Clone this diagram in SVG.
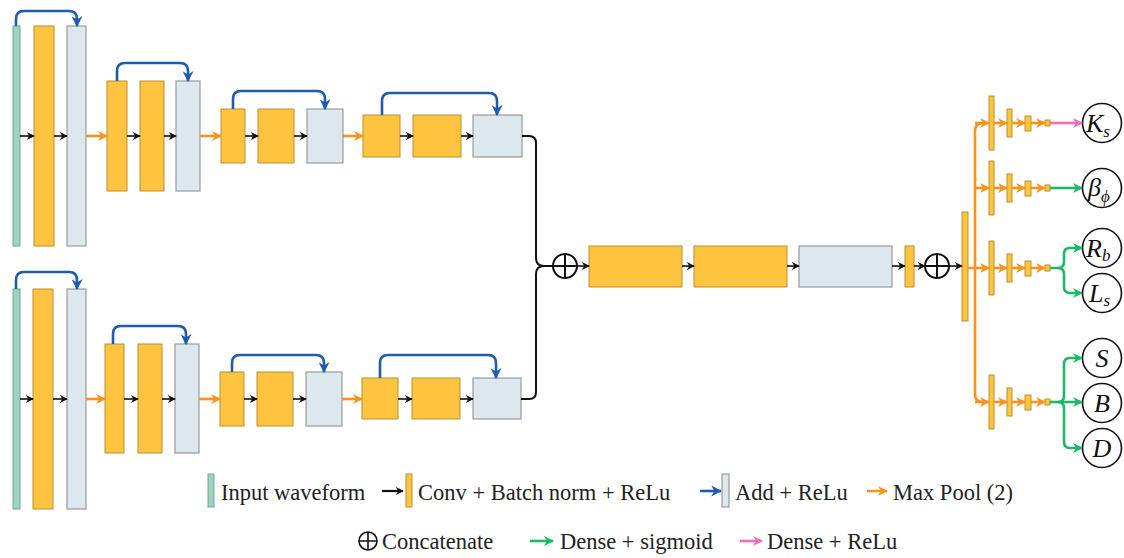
<svg xmlns="http://www.w3.org/2000/svg" width="1124" height="558" viewBox="0 0 1124 558">
<defs>
<marker id="mk" viewBox="0 0 10 10" refX="9" refY="5" markerWidth="8" markerHeight="8" markerUnits="userSpaceOnUse" orient="auto"><path d="M0,0 L10,5 L0,10 L3,5 z" fill="#111"/></marker>
<marker id="mo" viewBox="0 0 10 10" refX="9" refY="5" markerWidth="10" markerHeight="10" markerUnits="userSpaceOnUse" orient="auto"><path d="M0,0 L10,5 L0,10 L3,5 z" fill="#F7931E"/></marker>
<marker id="mb" viewBox="0 0 10 10" refX="9" refY="5" markerWidth="11" markerHeight="11" markerUnits="userSpaceOnUse" orient="auto"><path d="M0,0 L10,5 L0,10 L3,5 z" fill="#1F5CB0"/></marker>
<marker id="mg" viewBox="0 0 10 10" refX="9" refY="5" markerWidth="10" markerHeight="10" markerUnits="userSpaceOnUse" orient="auto"><path d="M0,0 L10,5 L0,10 L3,5 z" fill="#1DB865"/></marker>
<marker id="mp" viewBox="0 0 10 10" refX="9" refY="5" markerWidth="10" markerHeight="10" markerUnits="userSpaceOnUse" orient="auto"><path d="M0,0 L10,5 L0,10 L3,5 z" fill="#F06EB8"/></marker>
</defs>
<style>
.cv{fill:#FFC43F;stroke:#B8922F;stroke-width:1}
.ad{fill:#DDE8EE;stroke:#9A9A9A;stroke-width:1.2}
.in{fill:#9ED4BE;stroke:#6FA895;stroke-width:1}
.k{stroke:#111;stroke-width:1.6;fill:none;marker-end:url(#mk)}
.o{stroke:#F7931E;stroke-width:2.6;fill:none;marker-end:url(#mo)}
.on{stroke:#F7931E;stroke-width:2.6;fill:none}
.b{stroke:#1F5CB0;stroke-width:2.6;fill:none;marker-end:url(#mb)}
.g{stroke:#1DB865;stroke-width:2.6;fill:none;marker-end:url(#mg)}
.p{stroke:#F06EB8;stroke-width:2.6;fill:none;marker-end:url(#mp)}
.ln{stroke:#111;stroke-width:2;fill:none}
.cc{fill:#fff;stroke:#111;stroke-width:2}
.oc{fill:#fff;stroke:#111;stroke-width:1.6}
.t{font-family:"Liberation Serif",serif;font-size:22.5px;fill:#222}
.m{font-family:"Liberation Serif",serif;font-style:italic;font-size:26px;fill:#111}
.ms{font-family:"Liberation Serif",serif;font-style:italic;font-size:17px;fill:#111}
</style>

<g id="top-branch">
<rect id="t-in" class="in" x="13" y="26" width="7" height="220"/>
<rect id="t-c1" class="cv" x="34" y="26" width="20" height="220"/>
<rect id="t-a1" class="ad" x="67" y="26" width="19" height="220"/>
<rect id="t-c2" class="cv" x="107" y="81" width="20" height="110"/>
<rect id="t-c3" class="cv" x="140" y="81" width="24" height="110"/>
<rect id="t-a2" class="ad" x="176" y="81" width="24" height="110"/>
<rect id="t-c4" class="cv" x="221" y="109" width="24" height="54"/>
<rect id="t-c5" class="cv" x="258" y="109" width="36" height="54"/>
<rect id="t-a3" class="ad" x="307" y="109" width="36" height="54"/>
<rect id="t-c6" class="cv" x="363" y="115" width="37" height="42"/>
<rect id="t-c7" class="cv" x="413" y="115" width="48" height="42"/>
<rect id="t-a4" class="ad" x="473" y="115" width="49" height="42"/>
</g>

<g id="bottom-branch">
<rect id="b-in" class="in" x="13" y="289" width="7" height="220"/>
<rect id="b-c1" class="cv" x="33" y="289" width="20" height="220"/>
<rect id="b-a1" class="ad" x="67" y="289" width="19" height="220"/>
<rect id="b-c2" class="cv" x="105" y="344" width="19" height="109"/>
<rect id="b-c3" class="cv" x="138" y="344" width="24" height="109"/>
<rect id="b-a2" class="ad" x="175" y="344" width="24" height="109"/>
<rect id="b-c4" class="cv" x="220" y="372" width="24" height="54"/>
<rect id="b-c5" class="cv" x="257" y="372" width="36" height="54"/>
<rect id="b-a3" class="ad" x="306" y="372" width="36" height="54"/>
<rect id="b-c6" class="cv" x="362" y="378" width="36" height="41"/>
<rect id="b-c7" class="cv" x="412" y="378" width="48" height="41"/>
<rect id="b-a4" class="ad" x="473" y="378" width="48" height="41"/>
</g>

<g id="merge">
<g id="concat1"><circle class="cc" cx="565" cy="266" r="12"/><path class="ln" d="M553,266 H577 M565,254 V278"/></g>
<rect id="m-c1" class="cv" x="589" y="246" width="93" height="41"/>
<rect id="m-c2" class="cv" x="694" y="246" width="93" height="41"/>
<rect id="m-a1" class="ad" x="799" y="246" width="93" height="41"/>
<rect id="m-d1" class="cv" x="905" y="246" width="9" height="41"/>
<g id="concat2"><circle class="cc" cx="937" cy="266" r="12"/><path class="ln" d="M925,266 H949 M937,254 V278"/></g>
<rect id="m-bar" class="cv" x="962" y="212" width="6" height="109"/>
</g>

<g id="heads">
<g id="h1"><rect class="cv" x="989" y="96" width="5" height="54"/><rect class="cv" x="1007" y="109" width="5" height="28"/><rect class="cv" x="1025" y="116" width="6" height="15"/><rect class="cv" x="1045" y="120" width="5" height="6"/></g>
<g id="h2"><rect class="cv" x="989" y="161" width="5" height="54"/><rect class="cv" x="1007" y="174" width="5" height="28"/><rect class="cv" x="1025" y="181" width="6" height="15"/><rect class="cv" x="1045" y="185" width="5" height="6"/></g>
<g id="h3"><rect class="cv" x="989" y="241" width="5" height="54"/><rect class="cv" x="1007" y="254" width="5" height="28"/><rect class="cv" x="1025" y="261" width="6" height="15"/><rect class="cv" x="1045" y="265" width="5" height="6"/></g>
<g id="h4"><rect class="cv" x="989" y="375" width="5" height="54"/><rect class="cv" x="1007" y="388" width="5" height="28"/><rect class="cv" x="1025" y="395" width="6" height="15"/><rect class="cv" x="1045" y="399" width="5" height="6"/></g>
</g>

<g id="outputs">
<g id="o-Ks"><circle class="oc" cx="1102" cy="123" r="19.5"/><text class="m" x="1086" y="132">K<tspan class="ms" dy="5">s</tspan></text></g>
<g id="o-beta"><circle class="oc" cx="1102" cy="188" r="19.5"/><text class="m" x="1088" y="196">β<tspan class="ms" dy="6">ϕ</tspan></text></g>
<g id="o-Rb"><circle class="oc" cx="1102" cy="248" r="19.5"/><text class="m" x="1086" y="257">R<tspan class="ms" dy="4">b</tspan></text></g>
<g id="o-Ls"><circle class="oc" cx="1102" cy="293" r="19.5"/><text class="m" x="1089" y="302">L<tspan class="ms" dy="4">s</tspan></text></g>
<g id="o-S"><circle class="oc" cx="1102" cy="358" r="19.5"/><text class="m" x="1102" y="367" text-anchor="middle">S</text></g>
<g id="o-B"><circle class="oc" cx="1102" cy="403" r="19.5"/><text class="m" x="1102" y="412" text-anchor="middle">B</text></g>
<g id="o-D"><circle class="oc" cx="1102" cy="448" r="19.5"/><text class="m" x="1102" y="457" text-anchor="middle">D</text></g>
</g>

<g id="connectors">
<path class="b" d="M16,26 V19 Q16,11 24,11 H69 Q77,11 77,19 V26"/>
<path class="b" d="M117,81 V71 Q117,63 125,63 H180 Q188,63 188,71 V81"/>
<path class="b" d="M233,109 V99 Q233,91 241,91 H317 Q325,91 325,99 V109"/>
<path class="b" d="M382,115 V101 Q382,93 390,93 H489 Q497,93 497,101 V115"/>
<path class="b" d="M16,289 V280 Q16,272 24,272 H69 Q77,272 77,280 V289"/>
<path class="b" d="M113,344 V334 Q113,326 121,326 H178 Q186,326 186,334 V344"/>
<path class="b" d="M232,372 V363 Q232,355 240,355 H316 Q324,355 324,363 V372"/>
<path class="b" d="M380,378 V363 Q380,355 388,355 H488 Q496,355 496,363 V378"/>

<path class="k" d="M20,136 H34"/><path class="k" d="M54,136 H67"/>
<path class="o" d="M86,136 H107"/>
<path class="k" d="M127,136 H140"/><path class="k" d="M164,136 H176"/>
<path class="o" d="M200,136 H221"/>
<path class="k" d="M245,136 H258"/><path class="k" d="M294,136 H307"/>
<path class="o" d="M343,136 H363"/>
<path class="k" d="M400,136 H413"/><path class="k" d="M461,136 H473"/>

<path class="k" d="M20,399 H33"/><path class="k" d="M53,399 H67"/>
<path class="o" d="M86,399 H105"/>
<path class="k" d="M124,399 H138"/><path class="k" d="M162,399 H175"/>
<path class="o" d="M199,399 H220"/>
<path class="k" d="M244,399 H257"/><path class="k" d="M293,399 H306"/>
<path class="o" d="M342,399 H362"/>
<path class="k" d="M398,399 H412"/><path class="k" d="M460,399 H473"/>

<path class="ln" d="M522,136 H529 Q536,136 536,143 V258 Q536,266 544,266 H553"/>
<path class="ln" d="M521,399 H529 Q536,399 536,392 V274 Q536,266 544,266"/>
<path class="k" d="M577,266 H589"/>
<path class="k" d="M682,266 H694"/>
<path class="k" d="M787,266 H799"/>
<path class="k" d="M892,266 H905"/>
<path class="k" d="M914,266 H925"/>
<path class="k" d="M949,266 H962"/>

<path class="on" d="M968,268 H975"/>
<path class="on" d="M985,123 H983 Q975,123 975,131 V394 Q975,402 983,402 H985"/>
<path class="o" d="M975,123 H989"/><path class="o" d="M975,188 H989"/><path class="o" d="M975,268 H989"/><path class="o" d="M975,402 H989"/>
<path class="o" d="M994,123 H1007"/><path class="o" d="M1012,123 H1025"/><path class="o" d="M1031,123 H1045"/>
<path class="o" d="M994,188 H1007"/><path class="o" d="M1012,188 H1025"/><path class="o" d="M1031,188 H1045"/>
<path class="o" d="M994,268 H1007"/><path class="o" d="M1012,268 H1025"/><path class="o" d="M1031,268 H1045"/>
<path class="o" d="M994,402 H1007"/><path class="o" d="M1012,402 H1025"/><path class="o" d="M1031,402 H1045"/>

<path class="p" d="M1050,123 H1082"/>
<path class="g" d="M1050,188 H1082"/>
<path class="g" d="M1050,268 H1058 Q1064,268 1064,262 V254 Q1064,248 1070,248 H1082"/>
<path class="g" d="M1058,268 Q1064,268 1064,274 V287 Q1064,293 1070,293 H1082"/>
<path class="g" d="M1050,402 H1082"/>
<path class="g" d="M1058,402 Q1064,402 1064,396 V364 Q1064,358 1070,358 H1082"/>
<path class="g" d="M1058,402 Q1064,402 1064,408 V442 Q1064,448 1070,448 H1082"/>
</g>

<g id="legend">
<rect class="in" x="208" y="474" width="6" height="33"/>
<text class="t" x="221" y="500">Input waveform</text>
<path class="k" d="M382,491 H403" style="stroke-width:2.2"/>
<rect class="cv" x="406" y="474" width="6" height="33"/>
<text class="t" x="418" y="500">Conv + Batch norm + ReLu</text>
<path class="b" d="M700,491 H721"/>
<rect class="ad" x="722" y="474" width="7" height="33"/>
<text class="t" x="735" y="500">Add + ReLu</text>
<path class="o" d="M867,491 H887"/>
<text class="t" x="893" y="500">Max Pool (2)</text>
<circle class="oc" cx="368" cy="541" r="9"/><path class="ln" d="M359,541 H377 M368,532 V550" style="stroke-width:1.6"/>
<text class="t" x="382" y="549">Concatenate</text>
<path class="g" d="M530,541 H553"/>
<text class="t" x="560" y="549">Dense + sigmoid</text>
<path class="p" d="M740,541 H762"/>
<text class="t" x="767" y="549">Dense + ReLu</text>
</g>
</svg>
